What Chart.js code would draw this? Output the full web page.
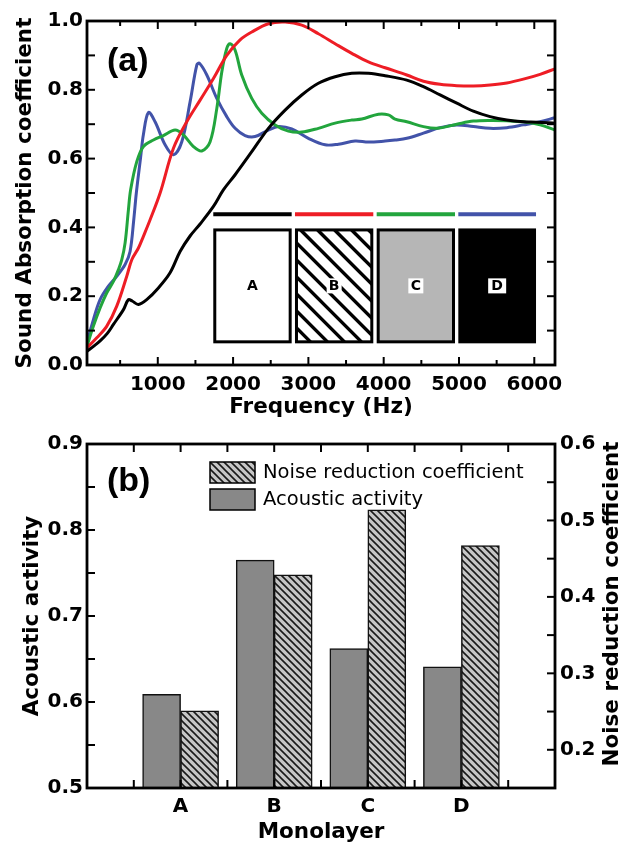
<!DOCTYPE html>
<html><head><meta charset="utf-8">
<script src="https://cdn.jsdelivr.net/npm/chart.js@4.4.1/dist/chart.umd.min.js"></script>
<style>
html,body{margin:0;padding:0;background:#fff;}
#wrap{position:relative;width:632px;height:848px;overflow:hidden;background:#fff;}
#ca{position:absolute;left:0;top:0;}
#cb{position:absolute;left:0;top:420px;}
</style></head><body>
<div id="wrap">
<canvas id="ca" width="632" height="420"></canvas>
<canvas id="cb" width="632" height="428"></canvas>
</div>
<script>
// ---------------- Panel (a) data: sound absorption coefficient vs frequency ----------------
const seriesNames = ['A', 'B', 'C', 'D'];

const freqA = [60,150,234,330,411,544,610,660,743,853,1008,1163,1296,1429,1562,1739,1871,2027,2248,2469,2691,2912,3133,3355,3576,3797,4019,4307,4528,4749,4971,5191,5413,5635,5855,6033,6275];
const absA  = [0.040,0.055,0.070,0.092,0.118,0.161,0.190,0.186,0.176,0.190,0.224,0.268,0.330,0.375,0.410,0.461,0.509,0.553,0.620,0.688,0.741,0.785,0.819,0.838,0.848,0.848,0.841,0.828,0.809,0.785,0.761,0.738,0.722,0.712,0.707,0.706,0.703];

const freqB = [60,190,323,455,588,655,743,809,898,1031,1208,1385,1562,1739,1916,2093,2248,2469,2691,2912,3133,3355,3576,3797,4019,4307,4528,4749,4971,5191,5413,5635,5855,6077,6275];
const absB  = [0.050,0.079,0.113,0.171,0.258,0.306,0.340,0.374,0.422,0.500,0.630,0.707,0.770,0.833,0.900,0.945,0.968,0.992,0.997,0.988,0.963,0.934,0.906,0.881,0.864,0.843,0.825,0.816,0.812,0.811,0.814,0.820,0.831,0.845,0.861];

const freqC = [60,145,234,323,411,477,522,566,610,640,721,809,942,1074,1230,1340,1473,1584,1695,1784,1850,1916,1960,2027,2115,2248,2381,2558,2734,2912,3133,3355,3576,3709,3930,4062,4151,4307,4528,4705,4971,5191,5413,5635,5855,6077,6275];
const absC  = [0.055,0.113,0.166,0.210,0.243,0.277,0.306,0.355,0.451,0.510,0.591,0.635,0.654,0.667,0.683,0.669,0.635,0.622,0.649,0.746,0.852,0.920,0.934,0.915,0.843,0.775,0.732,0.698,0.680,0.677,0.688,0.703,0.712,0.715,0.729,0.727,0.715,0.707,0.693,0.688,0.700,0.709,0.711,0.710,0.707,0.698,0.683];

const freqD = [60,145,234,344,455,566,632,680,715,770,809,876,964,1097,1208,1319,1429,1518,1553,1651,1784,1916,2027,2159,2292,2469,2602,2779,3000,3222,3399,3620,3797,4019,4151,4307,4528,4749,4971,5191,5413,5635,5855,6077,6275];
const absD  = [0.065,0.132,0.190,0.229,0.258,0.292,0.330,0.420,0.500,0.600,0.670,0.734,0.707,0.640,0.611,0.649,0.765,0.872,0.877,0.843,0.775,0.722,0.688,0.667,0.664,0.683,0.693,0.686,0.659,0.640,0.642,0.651,0.648,0.651,0.654,0.659,0.674,0.690,0.698,0.693,0.688,0.690,0.698,0.707,0.719];

const freqTicks = [1000, 2000, 3000, 4000, 5000, 6000];
const freqTickLabels = ['1000', '2000', '3000', '4000', '5000', '6000'];
const absTicks = [0, 0.2, 0.4, 0.6, 0.8, 1.0];
const absTickLabels = ['0.0', '0.2', '0.4', '0.6', '0.8', '1.0'];

// ---------------- Panel (b) data ----------------
const categories = ['A', 'B', 'C', 'D'];
const acousticActivity = [0.609, 0.765, 0.662, 0.641];
const noiseReduction   = [0.251, 0.429, 0.514, 0.467];
const activityTicks = [0.5, 0.6, 0.7, 0.8, 0.9];
const activityTickLabels = ['0.5', '0.6', '0.7', '0.8', '0.9'];
const nrcTicks = [0.2, 0.3, 0.4, 0.5, 0.6];
const nrcTickLabels = ['0.2', '0.3', '0.4', '0.5', '0.6'];

// ---------------- styling ----------------
const FONT = '"DejaVu Sans", sans-serif';
const LFONT = '"Liberation Sans", Arial, sans-serif';
const lineColors = ['#000000', '#ee1d25', '#22a53d', '#4253a9'];
const tickFont = {family: FONT, size: 20, weight: 'bold'};
const titleFont = {family: FONT, size: 21.5, weight: 'bold'};

function pts(xs, ys) { return xs.map((x, i) => ({x: x, y: ys[i]})); }

function makeHatch(bg, fg, size, lw) {
  const c = document.createElement('canvas');
  c.width = size; c.height = size;
  const g = c.getContext('2d');
  g.fillStyle = bg; g.fillRect(0, 0, size, size);
  g.strokeStyle = fg; g.lineWidth = lw; g.lineCap = 'square';
  g.beginPath();
  g.moveTo(-1, -1); g.lineTo(size + 1, size + 1);
  g.moveTo(-size - 1, -1); g.lineTo(1, size + 1);
  g.moveTo(size - 1, -1); g.lineTo(2 * size + 1, size + 1);
  g.stroke();
  return g.createPattern(c, 'repeat');
}
const hatch = makeHatch('#c6c6c6', '#1a1a1a', 7, 1.6);

// frame + inward ticks
const framePlugin = {
  id: 'frame',
  afterDraw(chart, args, o) {
    const {ctx, chartArea: a, scales} = chart;
    ctx.save();
    ctx.strokeStyle = '#000';
    ctx.lineCap = 'butt';
    const seg = (x0, y0, x1, y1) => { ctx.beginPath(); ctx.moveTo(x0, y0); ctx.lineTo(x1, y1); ctx.stroke(); };
    ctx.lineWidth = 2;
    const sx = scales.x;
    for (let v = o.x.start; v <= o.x.end + 1e-9; v += o.x.step) {
      const p = sx.getPixelForValue(v);
      const major = o.x.major ? Math.abs(v / o.x.major - Math.round(v / o.x.major)) < 1e-6 : true;
      const len = major ? o.x.len : o.x.minorLen;
      seg(p, a.bottom, p, a.bottom - len);
      seg(p, a.top, p, a.top + len);
    }
    const sy = scales.y;
    for (let v = o.y.start; v <= o.y.end + 1e-9; v += o.y.step) {
      const p = sy.getPixelForValue(v);
      seg(a.left, p, a.left + o.y.len, p);
      if (!o.y2) seg(a.right, p, a.right - o.y.len, p);
    }
    if (o.y2) {
      const s2 = scales.y2;
      for (let v = o.y2.start; v <= o.y2.end + 1e-9; v += o.y2.step) {
        const p = s2.getPixelForValue(v);
        seg(a.right, p, a.right - o.y2.len, p);
      }
    }
    ctx.lineWidth = 2.8;
    ctx.strokeRect(a.left, a.top, a.right - a.left, a.bottom - a.top);
    ctx.restore();
  }
};

// panel label "(a)" / "(b)"
const panelLabel = {
  id: 'panelLabel',
  afterDraw(chart, args, o) {
    const {ctx, chartArea: a} = chart;
    ctx.save();
    ctx.fillStyle = '#000';
    ctx.font = 'bold 34px ' + LFONT;
    ctx.textAlign = 'left'; ctx.textBaseline = 'alphabetic';
    ctx.fillText(o.text, a.left + o.dx, a.top + o.dy);
    ctx.restore();
  }
};

// inset for panel (a): colour key + monolayer swatches
const insetLayout = {
  keyY: 0.438, boxTop: 0.397, boxBottom: 0.063,
  cells: [[1737, 2778], [2822, 3862], [3907, 4947], [4991, 6023]]
};
const insetPlugin = {
  id: 'inset',
  afterDatasetsDraw(chart) {
    const {ctx, scales} = chart;
    const sx = scales.x, sy = scales.y;
    const L = insetLayout;
    ctx.save();
    insetLayout.cells.forEach((c, i) => {
      const x0 = sx.getPixelForValue(c[0]), x1 = sx.getPixelForValue(c[1]);
      const yk = sy.getPixelForValue(L.keyY);
      const yt = sy.getPixelForValue(L.boxTop), yb = sy.getPixelForValue(L.boxBottom);
      ctx.strokeStyle = chart.data.datasets[i].borderColor;
      ctx.lineWidth = 4;
      ctx.beginPath(); ctx.moveTo(x0, yk); ctx.lineTo(x1, yk); ctx.stroke();
      const bx = x0 + 1.5, by = yt + 1.5, bw = x1 - x0 - 3, bh = yb - yt - 3;
      const style = chart.data.datasets[i].swatch;
      ctx.fillStyle = style === 'grey' ? '#b6b6b6' : (style === 'black' ? '#000' : '#fff');
      ctx.fillRect(bx, by, bw, bh);
      if (style === 'hatch') {
        ctx.save();
        ctx.beginPath(); ctx.rect(bx, by, bw, bh); ctx.clip();
        ctx.strokeStyle = '#000'; ctx.lineWidth = 3.4;
        for (let k = -bh - 20; k < bw + 20; k += 17) {
          ctx.beginPath(); ctx.moveTo(bx + k, by); ctx.lineTo(bx + k + bh, by + bh); ctx.stroke();
        }
        ctx.restore();
      }
      ctx.strokeStyle = '#000'; ctx.lineWidth = 3;
      ctx.strokeRect(bx, by, bw, bh);
      const cx = (x0 + x1) / 2, cy = (yt + yb) / 2;
      ctx.font = 'bold 14px ' + FONT;
      if (style !== 'white') {
        ctx.fillStyle = '#fff';
        const w = style === 'black' ? 18 : 15;
        ctx.fillRect(cx - w / 2, cy - 7.5, w, 15);
      }
      ctx.fillStyle = '#000';
      ctx.textAlign = 'center'; ctx.textBaseline = 'middle';
      ctx.fillText(seriesNames[i], cx, cy + 0.5);
    });
    ctx.restore();
  }
};

// ---------------- Chart (a) ----------------
const swatches = ['white', 'hatch', 'grey', 'black'];
const seriesData = [[freqA, absA], [freqB, absB], [freqC, absC], [freqD, absD]];
new Chart(document.getElementById('ca'), {
  type: 'line',
  data: {
    datasets: seriesData.map((s, i) => ({
      label: seriesNames[i],
      data: pts(s[0], s[1]),
      borderColor: lineColors[i],
      backgroundColor: lineColors[i],
      borderWidth: 3,
      pointRadius: 0,
      tension: 0.35,
      fill: false,
      swatch: swatches[i]
    }))
  },
  options: {
    responsive: false, animation: false, devicePixelRatio: 1,
    layout: {padding: {top: 21, right: 77, bottom: 0, left: 0}},
    plugins: {
      legend: {display: false}, tooltip: {enabled: false},
      frame: {x: {start: 500, end: 6000, step: 500, major: 1000, len: 8, minorLen: 5},
              y: {start: 0.1, end: 0.9, step: 0.1, len: 8}},
      panelLabel: {text: '(a)', dx: 20, dy: 50}
    },
    scales: {
      x: {
        type: 'linear', min: 60, max: 6275,
        afterFit: s => { s.height = 55; },
        afterBuildTicks: s => { s.ticks = freqTicks.map(v => ({value: v})); },
        grid: {display: false, drawTicks: false, tickLength: 0},
        border: {display: false},
        ticks: {font: tickFont, color: '#000', padding: 8, maxRotation: 0, autoSkip: false,
                callback: (v, i) => freqTickLabels[i]},
        title: {display: true, text: 'Frequency (Hz)', font: titleFont, color: '#000', padding: {top: 0, bottom: 0}}
      },
      y: {
        type: 'linear', min: 0, max: 1,
        afterFit: s => { s.width = 87; },
        afterBuildTicks: s => { s.ticks = absTicks.map(v => ({value: v})); },
        grid: {display: false, drawTicks: false, tickLength: 0},
        border: {display: false},
        ticks: {font: tickFont, color: '#000', padding: 4, callback: (v, i) => absTickLabels[i]},
        title: {display: true, text: 'Sound Absorption coefficient', font: titleFont, color: '#000', padding: {top: 13, bottom: 0}}
      }
    }
  },
  plugins: [framePlugin, insetPlugin, panelLabel]
});

// ---------------- Chart (b) ----------------
const legendPlugin = {
  id: 'barLegend',
  afterDraw(chart, args, o) {
    const {ctx, chartArea: a} = chart;
    ctx.save();
    o.order.forEach((di, row) => {
      const ds = chart.data.datasets[di];
      const x = a.left + o.dx, y = a.top + o.dy + row * o.rowH;
      ctx.fillStyle = ds.backgroundColor;
      ctx.fillRect(x, y, o.boxW, o.boxH);
      ctx.strokeStyle = '#000'; ctx.lineWidth = 1.5;
      ctx.strokeRect(x, y, o.boxW, o.boxH);
      ctx.fillStyle = '#000';
      ctx.font = '19.5px ' + FONT;
      ctx.textAlign = 'left'; ctx.textBaseline = 'middle';
      ctx.fillText(ds.label, x + o.boxW + 8, y + o.boxH / 2 + 0.5);
    });
    ctx.restore();
  }
};
const rightTitle = {
  id: 'rightTitle',
  afterDraw(chart, args, o) {
    const {ctx, chartArea: a} = chart;
    ctx.save();
    ctx.translate(a.right + o.dx, a.top + o.dy);
    ctx.rotate(-Math.PI / 2);
    ctx.fillStyle = '#000';
    ctx.font = 'bold 21.5px ' + FONT;
    ctx.textAlign = 'center'; ctx.textBaseline = 'middle';
    ctx.fillText(o.text, 0, 0);
    ctx.restore();
  }
};

new Chart(document.getElementById('cb'), {
  type: 'bar',
  data: {
    datasets: [
      {
        label: 'Acoustic activity',
        data: categories.map((c, i) => ({x: i + 1, y: acousticActivity[i]})),
        yAxisID: 'y',
        backgroundColor: '#888888', borderColor: '#111', borderWidth: 1.5,
        borderSkipped: false, barThickness: 38
      },
      {
        label: 'Noise reduction coefficient',
        data: categories.map((c, i) => ({x: i + 1, y: noiseReduction[i]})),
        yAxisID: 'y2',
        backgroundColor: hatch, borderColor: '#111', borderWidth: 1.5,
        borderSkipped: false, barThickness: 38
      }
    ]
  },
  options: {
    responsive: false, animation: false, devicePixelRatio: 1,
    layout: {padding: {top: 24, right: 0, bottom: 0, left: 0}},
    plugins: {
      legend: {display: false}, tooltip: {enabled: false},
      frame: {x: {start: 0.5, end: 4.5, step: 0.5, major: 0, len: 8, minorLen: 8},
              y: {start: 0.55, end: 0.85, step: 0.05, len: 8},
              y2: {start: 0.2, end: 0.55, step: 0.05, len: 8}},
      panelLabel: {text: '(b)', dx: 20, dy: 47},
      barLegend: {order: [1, 0], dx: 123, dy: 18, rowH: 27, boxW: 45, boxH: 21},
      rightTitle: {text: 'Noise reduction coefficient', dx: 57, dy: 160}
    },
    scales: {
      x: {
        type: 'linear', min: 0, max: 5, offset: false,
        afterFit: s => { s.height = 60; },
        afterBuildTicks: s => { s.ticks = categories.map((c, i) => ({value: i + 1})); },
        grid: {display: false, drawTicks: false, tickLength: 0, offset: false},
        border: {display: false},
        ticks: {font: tickFont, color: '#000', padding: 7, maxRotation: 0, autoSkip: false,
                callback: (v, i) => categories[i]},
        title: {display: true, text: 'Monolayer', font: titleFont, color: '#000', padding: {top: 0, bottom: 3}}
      },
      y: {
        type: 'linear', position: 'left', min: 0.5, max: 0.9,
        afterFit: s => { s.width = 87; },
        afterBuildTicks: s => { s.ticks = activityTicks.map(v => ({value: v})); },
        grid: {display: false, drawTicks: false, tickLength: 0},
        border: {display: false},
        ticks: {font: tickFont, color: '#000', padding: 4, callback: (v, i) => activityTickLabels[i]},
        title: {display: true, text: 'Acoustic activity', font: titleFont, color: '#000', padding: {top: 20, bottom: 0}}
      },
      y2: {
        type: 'linear', position: 'right', min: 0.15, max: 0.6,
        afterFit: s => { s.width = 77; },
        afterBuildTicks: s => { s.ticks = nrcTicks.map(v => ({value: v})); },
        grid: {display: false, drawTicks: false, tickLength: 0},
        border: {display: false},
        ticks: {font: tickFont, color: '#000', padding: 5, callback: (v, i) => nrcTickLabels[i]}
      }
    }
  },
  plugins: [framePlugin, legendPlugin, rightTitle, panelLabel]
});
</script>
</body></html>
